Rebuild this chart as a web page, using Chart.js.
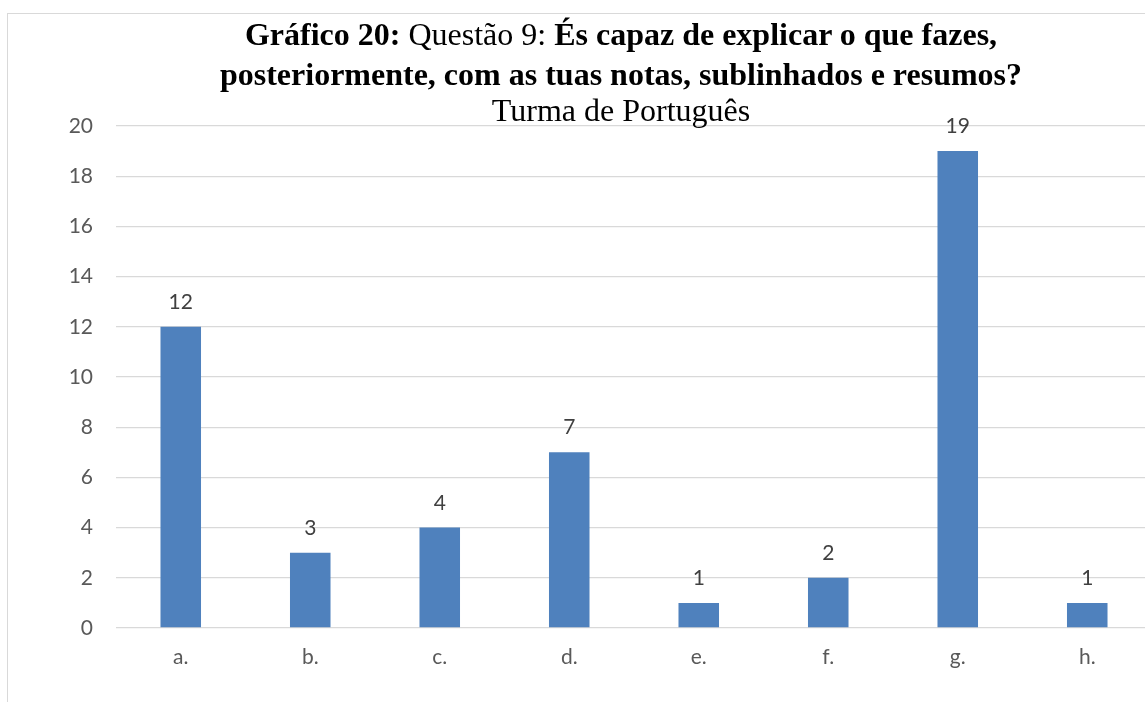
<!DOCTYPE html>
<html>
<head>
<meta charset="utf-8">
<script src="https://cdn.jsdelivr.net/npm/chart.js@4/dist/chart.umd.min.js"></script>
<style>
    html, body {
        margin: 0;
        padding: 0;
        width: 1145px;
        height: 702px;
        overflow: hidden;
        background: #ffffff;
    }
    #frame {
        position: absolute;
        left: 7px;
        top: 13px;
        width: 1200px;
        height: 760px;
        border-left: 1px solid #d9d9d9;
        border-top: 1px solid #d9d9d9;
    }
    #chartBox {
        position: absolute;
        left: 0;
        top: 0;
        width: 1160px;
        height: 702px;
    }
    .titleLine {
        position: absolute;
        left: 0;
        width: 1242px;
        text-align: center;
        font-family: "Liberation Serif", "Times New Roman", serif;
        font-size: 32px;
        line-height: 36px;
        color: #000000;
        white-space: nowrap;
    }
    .titleLine b { font-weight: bold; }
</style>
</head>
<body>

<div id="frame"></div>

<div id="chartBox">
    <canvas id="surveyChart" width="1160" height="702"></canvas>
</div>

<div class="titleLine" style="top:16px"><b>Gráfico 20:</b> Questão 9: <b>És capaz de explicar o que fazes,</b></div>
<div class="titleLine" style="top:56px"><b>posteriormente, com as tuas notas, sublinhados e resumos?</b></div>
<div class="titleLine" style="top:92px">Turma de Português</div>

<script>
/*
------------------------------------------------------------
데이터
------------------------------------------------------------
*/

const categories = ["a.", "b.", "c.", "d.", "e.", "f.", "g.", "h."];

const answers = [12, 3, 4, 7, 1, 2, 19, 1];

const yTicks = [0, 2, 4, 6, 8, 10, 12, 14, 16, 18, 20];

/*
------------------------------------------------------------
막대 위 값 표시
------------------------------------------------------------
*/

const valueLabels = {

    id: "valueLabels",

    afterDatasetsDraw(chart) {

        const ctx = chart.ctx;
        const meta = chart.getDatasetMeta(0);

        ctx.save();
        ctx.font = "21px Lato";
        ctx.fillStyle = "#404040";
        ctx.textAlign = "center";
        ctx.textBaseline = "alphabetic";

        meta.data.forEach((bar, i) => {
            ctx.fillText(String(answers[i]), bar.x, bar.y - 18);
        });

        ctx.restore();
    }
};

/*
------------------------------------------------------------
그래프 생성
------------------------------------------------------------
*/

function initializeChart() {

    const ctx =
        document
            .getElementById("surveyChart")
            .getContext("2d");

    new Chart(ctx, {

        type: "bar",

        data: {
            labels: categories,
            datasets: [
                {
                    data: answers,
                    backgroundColor: "#4f81bd",
                    borderColor: "#4f81bd",
                    borderWidth: 0,
                    categoryPercentage: 1,
                    barPercentage: 0.313
                }
            ]
        },

        options: {

            responsive: false,
            animation: false,

            layout: {
                padding: { left: 0, right: 8, top: 126, bottom: 0 }
            },

            plugins: {
                legend: { display: false },
                title: { display: false },
                tooltip: { enabled: false }
            },

            scales: {

                x: {
                    grid: { display: false },
                    border: { display: false },
                    ticks: {
                        color: "#595959",
                        font: { family: "Lato", size: 21 },
                        padding: 9
                    },
                    afterFit(scale) {
                        scale.height = 74;
                    }
                },

                y: {
                    min: 0,
                    max: 20,
                    afterBuildTicks(scale) {
                        scale.ticks = yTicks.map(v => ({ value: v }));
                    },
                    grid: {
                        color: "#d9d9d9",
                        lineWidth: 1.3,
                        drawTicks: false
                    },
                    border: { display: false },
                    ticks: {
                        color: "#595959",
                        font: { family: "Lato", size: 21 },
                        padding: 23
                    },
                    afterFit(scale) {
                        scale.width = 116;
                    }
                }
            }
        },

        plugins: [valueLabels]
    });
}

initializeChart();
</script>
</body>
</html>
